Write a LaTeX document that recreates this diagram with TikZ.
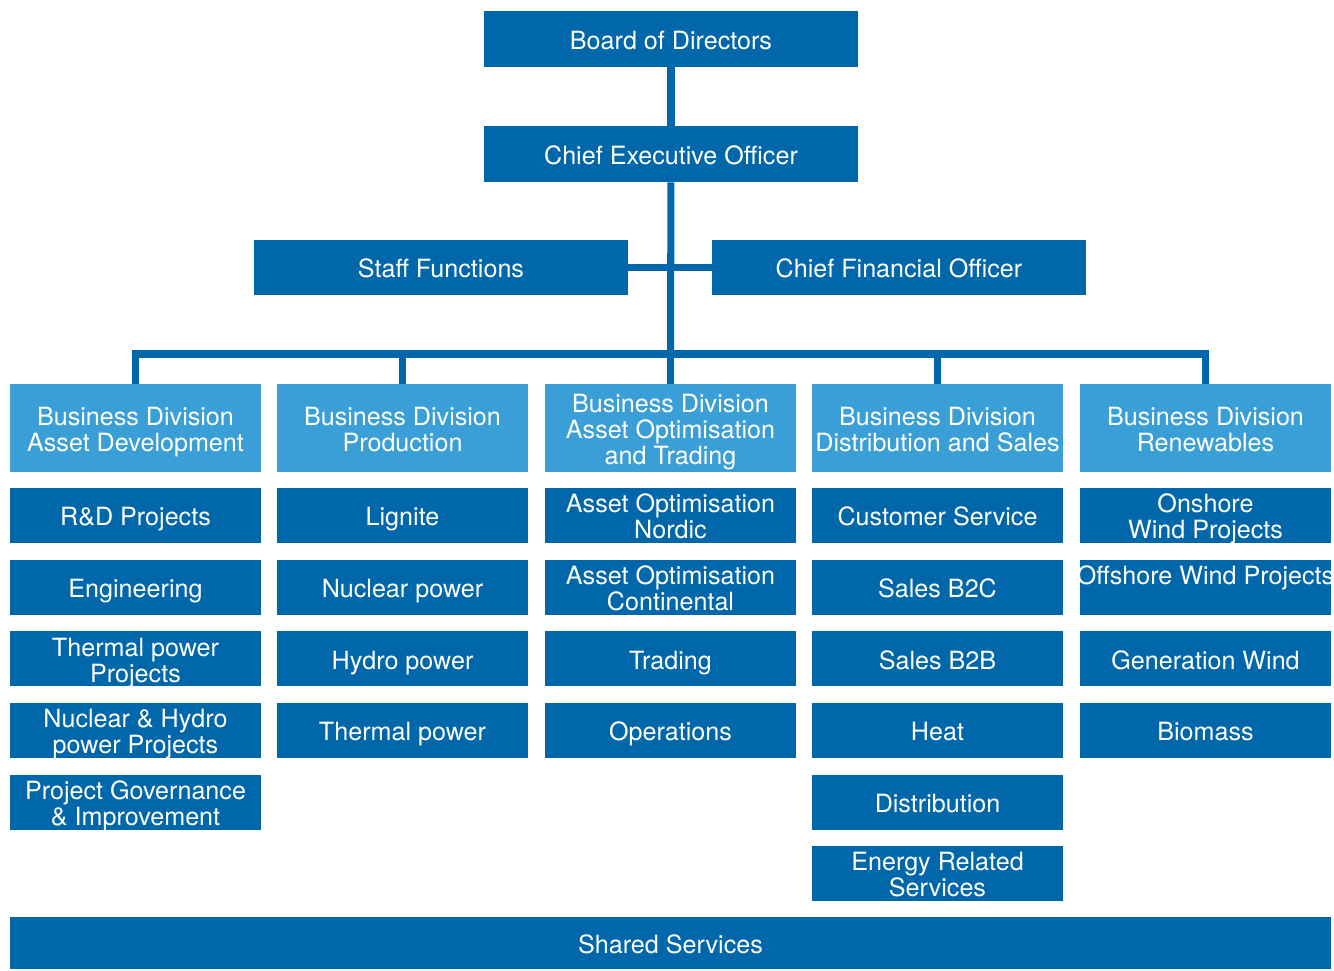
\documentclass[tikz,border=0pt]{standalone}
\usepackage{fontspec}
\setmainfont{TeX Gyre Heros}
\definecolor{orgdark}{RGB}{0,103,170}
\definecolor{orglight}{RGB}{58,159,214}
\tikzset{
  unitbox/.style={fill=orgdark,text=white,align=center,inner sep=0pt,
    font=\fontsize{14.3}{14.7}\selectfont,lines=1,text depth=2.2pt},
  lines/.code={\pgfmathsetlengthmacro\boxht{13.9pt+14.7pt*(#1-1)}%
    \tikzset{text height/.expanded=\boxht}},
  topbox/.style={unitbox,minimum width=7.48cm,minimum height=1.12cm},
  divbox/.style={unitbox,fill=orglight,minimum width=5.02cm,minimum height=1.76cm},
  subbox/.style={unitbox,minimum width=5.02cm,minimum height=1.1cm},
  link/.style={orgdark,line width=4pt,line join=miter}
}
\begin{document}
\begin{tikzpicture}[x=0.02cm,y=-0.02cm]
  \useasboundingbox (0,0) rectangle (1334,970);

  % top of the tree
  \node[topbox] (board) at (671,39) {Board of Directors};
  \node[topbox] (ceo)   at (671,154) {Chief Executive Officer};
  \node[topbox] (staff) at (441,267.5) {Staff Functions};
  \node[topbox] (cfo)   at (899,267.5) {Chief Financial Officer};

  % business divisions
  \node[divbox,lines=2] (ad) at (135.5,428) {Business Division\\Asset Development};
  \node[divbox,lines=2] (pr) at (402.5,428) {Business Division\\Production};
  \node[divbox,lines=3] (ao) at (670.5,428) {Business Division\\Asset Optimisation\\and Trading};
  \node[divbox,lines=2] (ds) at (937.5,428) {Business Division\\Distribution and Sales};
  \node[divbox,lines=2] (re) at (1205.5,428) {Business Division\\Renewables};

  % units below each division
  \foreach \txt/\n [count=\r] in {R\&D Projects/1,Engineering/1,Thermal power\\Projects/2,
      Nuclear \& Hydro\\power Projects/2,Project Governance\\\& Improvement/2}
    \node[subbox,lines=\n] (ad\r) at (135.5,444+71.6*\r) {\txt};
  \foreach \txt/\n [count=\r] in {Lignite/1,Nuclear power/1,Hydro power/1,Thermal power/1}
    \node[subbox,lines=\n] (pr\r) at (402.5,444+71.6*\r) {\txt};
  \foreach \txt/\n [count=\r] in {Asset Optimisation\\Nordic/2,Asset Optimisation\\Continental/2,
      Trading/1,Operations/1}
    \node[subbox,lines=\n] (ao\r) at (670.5,444+71.6*\r) {\txt};
  \foreach \txt/\n [count=\r] in {Customer Service/1,Sales B2C/1,Sales B2B/1,Heat/1,
      Distribution/1,Energy Related\\Services/2}
    \node[subbox,lines=\n] (ds\r) at (937.5,444+71.6*\r) {\txt};
  \foreach \txt/\n [count=\r] in {Onshore\\Wind Projects/2,
      \makebox[5.02cm]{Offshore Wind Projects}\\\mbox{}/2,Generation Wind/1,Biomass/1}
    \node[subbox,lines=\n] (re\r) at (1205.5,444+71.6*\r) {\txt};

  \node[unitbox,minimum width=26.42cm,minimum height=1.04cm] (shared) at (670.5,943)
    {Shared Services};

  % connectors
  \coordinate (bus) at (670.5,354);
  \draw[link] (board) -- (ceo);
  \draw[link] (ceo) -- (bus);
  \draw[link] (staff) -- (cfo);
  \draw[link] (ad.north) |- (bus) -| (re.north);
  \foreach \d in {pr,ao,ds}
    \draw[link] (\d.north) -- (\d.north |- bus);
\end{tikzpicture}
\end{document}
